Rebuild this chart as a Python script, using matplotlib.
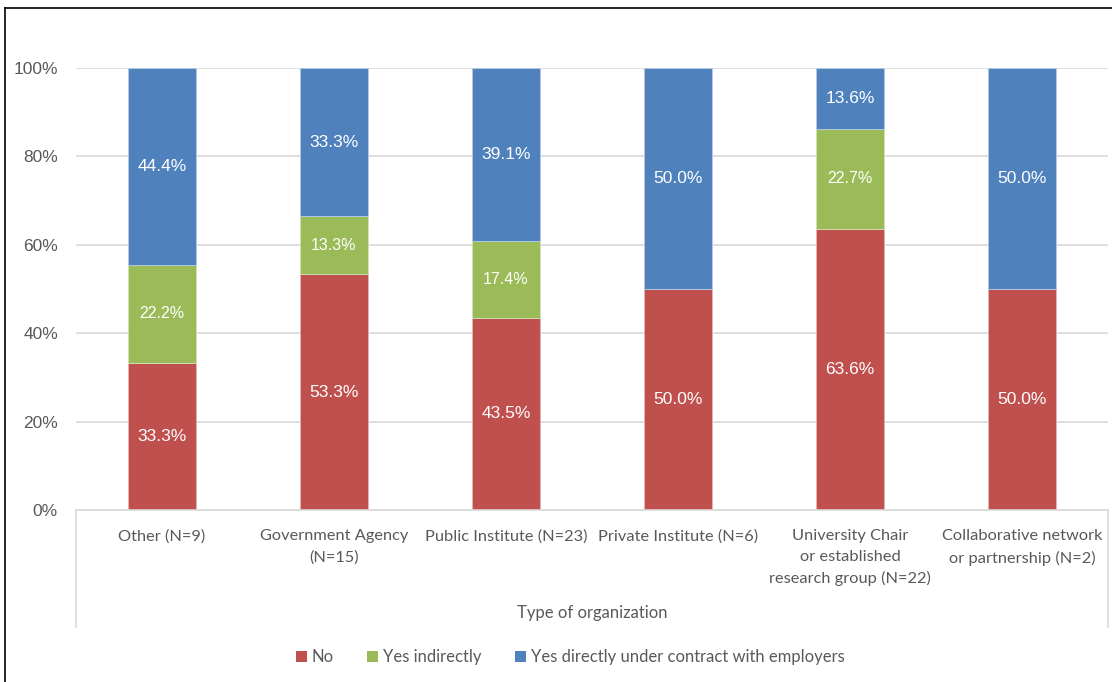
import numpy as np
import matplotlib.pyplot as plt
from matplotlib.lines import Line2D
from matplotlib.patches import Patch

categories = ["Other (N=9)", "Government Agency\n(N=15)", "Public Institute (N=23)",
              "Private Institute (N=6)", "University Chair\nor established\nresearch group (N=22)",
              "Collaborative network\nor partnership (N=2)"]
no_vals = [33.3, 53.3, 43.5, 50.0, 63.6, 50.0]
indirect_vals = [22.2, 13.3, 17.4, 0.0, 22.7, 0.0]
direct_vals = [44.4, 33.3, 39.1, 50.0, 13.6, 50.0]
series_names = ["No", "Yes indirectly", "Yes directly under contract with employers"]

c_no = "#C0504D"
c_ind = "#9BBB59"
c_dir = "#4F81BD"
txt = "#595959"
num_font = "Liberation Sans"
cat_font = "Lato"

fig = plt.figure(figsize=(11.12, 6.82), dpi=100)
ax = fig.add_axes([76 / 1112, 1 - 510 / 682, 1032 / 1112, 442 / 682])

x = np.arange(len(categories))
w = 0.4
no = np.array(no_vals)
ind = np.array(indirect_vals)
dr = np.array(direct_vals)

ax.bar(x, no, w, color=c_no, edgecolor="#E8B3B1", linewidth=0.6, zorder=2)
ax.bar(x, ind, w, bottom=no, color=c_ind, edgecolor="#D3E3B8", linewidth=0.6, zorder=2)
ax.bar(x, dr, w, bottom=no + ind, color=c_dir, edgecolor="#B5CBE6", linewidth=0.6, zorder=2)

for i in x:
    ax.text(i, no[i] / 2, f"{no[i]:.1f}%", ha="center", va="center", color="white",
            fontsize=12.5, family=num_font, zorder=3)
    if ind[i] > 0:
        ax.text(i, no[i] + ind[i] / 2, f"{ind[i]:.1f}%", ha="center", va="center",
                color="white", fontsize=11.5, family=num_font, zorder=3)
    ax.text(i, no[i] + ind[i] + dr[i] / 2, f"{dr[i]:.1f}%", ha="center", va="center",
            color="white", fontsize=12.5, family=num_font, zorder=3)

ax.set_xlim(-0.5, len(categories) - 0.5)
ax.set_ylim(0, 100)
ax.set_yticks(np.arange(0, 101, 20))
ax.set_yticklabels([f"{v}%" for v in range(0, 101, 20)], family=num_font, fontsize=12.5, color=txt)
ax.yaxis.grid(True, color="#D9D9D9", linewidth=1.2, zorder=0)
ax.set_axisbelow(True)
ax.tick_params(axis="y", length=0, pad=13)
ax.set_xticks(x)
ax.set_xticklabels(categories, family=cat_font, fontsize=11.8, color=txt, linespacing=1.6)
ax.tick_params(axis="x", length=0, pad=14)
for s in ["left", "right", "top"]:
    ax.spines[s].set_visible(False)
ax.spines["bottom"].set_color("#D9D9D9")
ax.spines["bottom"].set_linewidth(1.2)

# multi-level axis boundary lines and group label
ax_l, ax_r = 76 / 1112, 1108 / 1112
y0, y1 = 1 - 510 / 682, 1 - 627 / 682
fig.add_artist(Line2D([ax_l, ax_l], [y0, y1], color="#D9D9D9", lw=1.2))
fig.add_artist(Line2D([ax_r, ax_r], [y0, y1], color="#D9D9D9", lw=1.2))
fig.text((ax_l + ax_r) / 2, 1 - 613 / 682, "Type of organization", ha="center", va="center",
         family=cat_font, fontsize=12, color=txt)

handles = [Patch(facecolor=c, edgecolor="none") for c in (c_no, c_ind, c_dir)]
leg = fig.legend(handles, series_names, loc="center", bbox_to_anchor=(570 / 1112, 1 - 657 / 682),
                 ncol=3, frameon=False, handlelength=0.65, handleheight=0.65, handletextpad=0.3,
                 columnspacing=2.0, prop={"family": cat_font, "size": 12})
for t in leg.get_texts():
    t.set_color(txt)

# chart border (top and left visible)
fig.add_artist(Line2D([5 / 1112, 1], [1 - 8 / 682, 1 - 8 / 682], color="black", lw=1.2))
fig.add_artist(Line2D([5 / 1112, 5 / 1112], [0, 1 - 8 / 682], color="black", lw=1.2))

fig.savefig("out.png", dpi=100)
